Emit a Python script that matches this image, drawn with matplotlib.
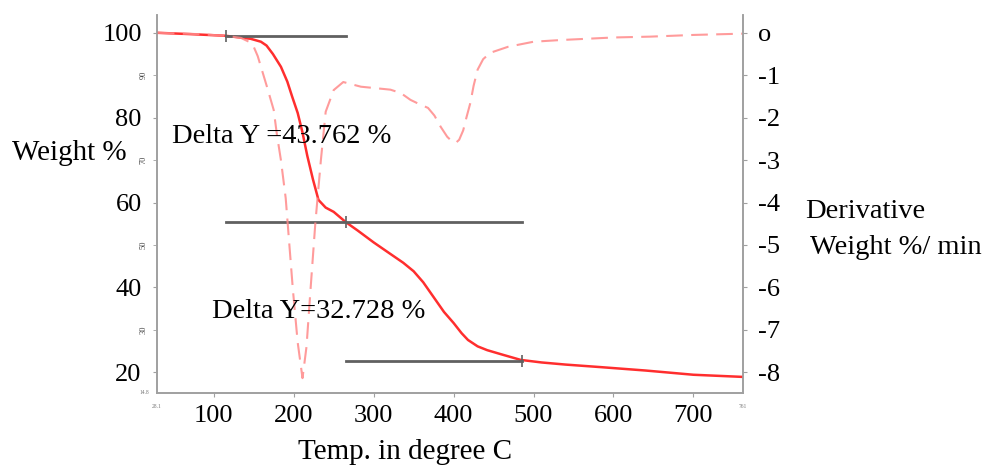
import matplotlib
matplotlib.use("Agg")
import matplotlib.pyplot as plt
import matplotlib.transforms as mtransforms

plt.rcParams['font.family'] = ['Liberation Serif', 'DejaVu Serif']

# weight loss curve (TGA): temperature in C, weight %
tga_temp = [30, 70, 115, 146, 159, 166, 174, 184, 192, 198, 205, 211, 217, 224, 231,
            240, 250, 265, 280, 300, 320, 337, 350, 362, 375, 388, 400, 410, 418, 430,
            442, 460, 484, 510, 540, 584, 640, 700, 761]
tga_weight = [100, 99.7, 99.3, 98.6, 97.9, 97.0, 95.0, 92.0, 88.5, 85.0, 81.1, 76.5, 71.0, 65.5, 60.6,
              58.8, 57.8, 55.4, 53.4, 50.6, 48.0, 45.8, 43.8, 41.2, 37.7, 34.2, 31.6, 29.2, 27.6, 26.1,
              25.2, 24.2, 22.9, 22.3, 21.8, 21.2, 20.4, 19.4, 18.9]

# derivative curve (DTG): weight %/min
dtg_temp = [30, 80, 115, 134, 145, 150, 155, 159, 163, 167, 175, 179, 184, 190, 199, 205, 211,
            216, 221, 227, 234, 240, 250, 262, 284, 321, 334, 346, 357, 368, 376, 384, 392,
            398, 403, 407, 412, 416, 421, 425, 430, 437, 446, 468, 500, 534, 600, 646, 700, 761]
dtg_value = [0, -0.03, -0.07, -0.12, -0.22, -0.33, -0.55, -0.8, -1.05, -1.3, -1.82, -2.4, -3.0, -3.9, -6.06, -7.3, -8.14,
             -7.4, -6.06, -4.5, -3.0, -1.86, -1.35, -1.16, -1.27, -1.34, -1.42, -1.58, -1.68, -1.77, -1.95, -2.22, -2.45,
             -2.56, -2.59, -2.52, -2.3, -2.0, -1.65, -1.25, -0.87, -0.62, -0.47, -0.33, -0.21, -0.17, -0.11, -0.09, -0.05, -0.02]

# step analysis: two weight losses
start_level = 99.2
delta_y = [43.762, 32.728]
step_from = [115, 115, 265]
step_to = [265, 486, 486]
step_mark = [115, 265, 486]

left_ticks = [20, 40, 60, 80, 100]
left_minor = [30, 50, 70, 90]
right_ticks = [0, -1, -2, -3, -4, -5, -6, -7, -8]
right_labels = ['o', '-1', '-2', '-3', '-4', '-5', '-6', '-7', '-8']
x_ticks = [100, 200, 300, 400, 500, 600, 700]

W, H = 986, 468
fig = plt.figure(figsize=(W / 100, H / 100), dpi=100)
ax = fig.add_axes([157 / W, 1 - 393 / H, (743 - 157) / W, (393 - 15) / H])
ax2 = ax.twinx()

ylo, yhi = 15.1, 104.2
ax.set_xlim(29, 762)
ax.set_ylim(ylo, yhi)
ax2.set_ylim((ylo - 100) / 10, (yhi - 100) / 10)

gray = '#a0a0a0'
for a in (ax, ax2):
    a.spines['top'].set_visible(False)
    for s in ('left', 'right', 'bottom'):
        a.spines[s].set_color(gray)
        a.spines[s].set_linewidth(1.2)

ax.plot(tga_temp, tga_weight, color='#ff2e2e', lw=1.8, zorder=3)
ax2.plot(dtg_temp, dtg_value, color='#ff8a8a', lw=1.5, dashes=(8, 4), alpha=0.85)

# step lines with tick markers
levels = [start_level]
for d in delta_y:
    levels.append(levels[-1] - d)
for i in range(3):
    ax.plot([step_from[i], step_to[i]], [levels[i], levels[i]], color='#606060', lw=2, zorder=4)
    ax.plot(step_mark[i], levels[i], marker='|', ms=9, mew=1.2, color='#606060', zorder=5)

# left axis
ax.set_yticks(left_ticks)
ax.set_yticklabels([str(v) for v in left_ticks], fontsize=19)
ax.set_yticks(left_minor, minor=True)
ax.set_yticklabels([str(v) for v in left_minor], minor=True, fontsize=6, rotation=90,
                   va='center', color='#444444')
ax.tick_params(axis='y', which='major', length=3, color=gray, pad=8)
ax.tick_params(axis='y', which='minor', length=3, color=gray, pad=4)

# bottom axis
ax.set_xticks(x_ticks)
ax.set_xticklabels([str(v) for v in x_ticks], fontsize=19)
ax.tick_params(axis='x', length=3, color=gray, pad=6)

# right axis
ax2.set_yticks(right_ticks)
ax2.set_yticklabels(right_labels, fontsize=19)
ax2.tick_params(axis='y', length=3, color=gray, pad=8)

# tiny range labels at the corners
trans = mtransforms.blended_transform_factory(ax.transData, ax.transAxes)
ax.text(29, -0.035, '28.1', transform=trans, fontsize=4, color='#777777', ha='center', va='center')
ax.text(762, -0.035, '761', transform=trans, fontsize=4, color='#777777', ha='center', va='center')
ax.text(-0.022, 0.0, '14.8', transform=ax.transAxes, fontsize=4, color='#777777', ha='center', va='center')


def px(x, y):
    return x / W, 1 - y / H


fig.text(*px(12, 153), 'Weight %', fontsize=21, ha='left', va='center')
fig.text(*px(172, 136), 'Delta Y =%.3f %%' % delta_y[0], fontsize=20.5, ha='left', va='center')
fig.text(*px(212, 311), 'Delta Y=%.3f %%' % delta_y[1], fontsize=20.5, ha='left', va='center')
fig.text(*px(805, 212), 'Derivative', fontsize=20.5, ha='left', va='center')
fig.text(*px(810, 247), 'Weight %/ min', fontsize=20.5, ha='left', va='center')
fig.text(*px(405, 452), 'Temp. in degree C', fontsize=21, ha='center', va='center')

fig.savefig('out.png', dpi=100)
